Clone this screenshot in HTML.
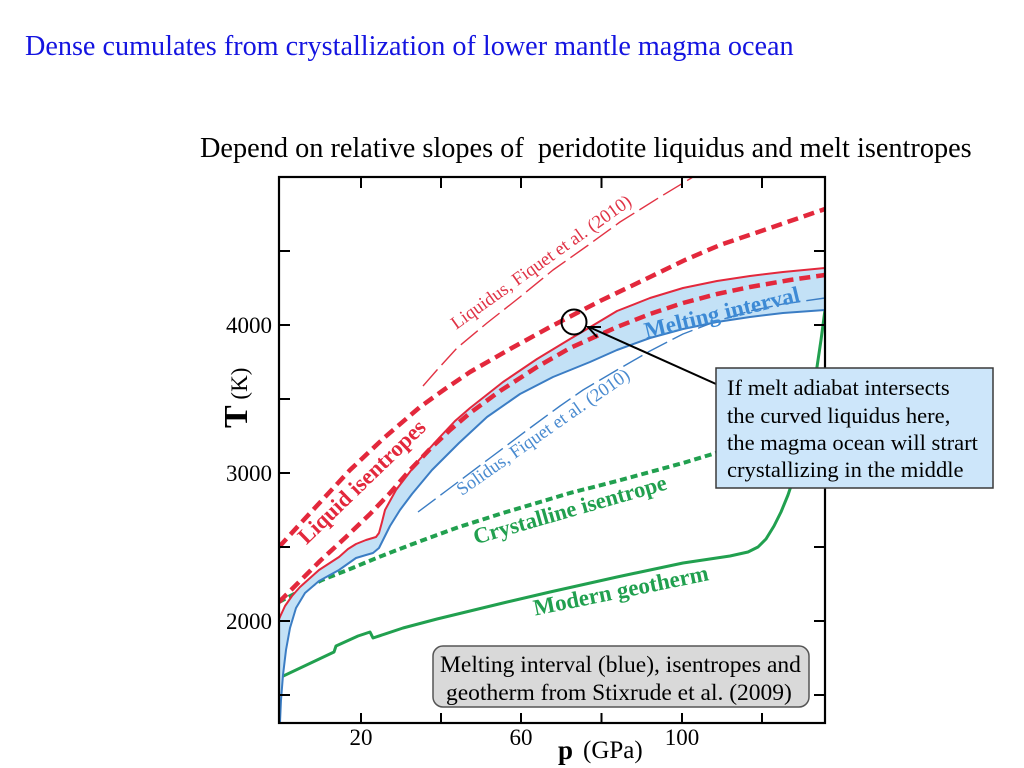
<!DOCTYPE html>
<html>
<head>
<meta charset="utf-8">
<style>
html,body{margin:0;padding:0;background:#fff;width:1024px;height:768px;overflow:hidden}
svg{display:block}
svg text{font-family:"Liberation Serif","Times New Roman",serif}
</style>
</head>
<body>
<svg width="1024" height="768" viewBox="0 0 1024 768" xmlns="http://www.w3.org/2000/svg" font-family="'Liberation Serif', serif">
<defs>
<clipPath id="pa"><rect x="279" y="177" width="546" height="546"/></clipPath>
</defs>

<!-- Titles -->
<text x="25" y="55" font-size="28.2" fill="#1414e0">Dense cumulates from crystallization of lower mantle magma ocean</text>
<text x="200" y="157" font-size="28.3" fill="#000">Depend on relative slopes of&#160; peridotite liquidus and melt isentropes</text>

<g clip-path="url(#pa)" fill="none" stroke-linejoin="round">
  <path d="M279,602 L300,591 L322,580 L350,569 L379,557 L410,545 L437,535 L459,527 L503,513 L540,502 L570,493 L617,481 L650,472 L683,463 L716,453" stroke="#21a04f" stroke-width="4" stroke-dasharray="7 4"/>
  <path d="M279,678 L334,652 L336,646 L358,636 L370,632 L373,638 L403,628 L437,619 L470,611 L503,603 L550,592 L617,577 L683,563 L730,556 L748,552 L758,547 L766,539 L774,526 L781,512 L788,495 L795,474 L802,450 L808,425 L813,397 L817,367 L821,340 L825,310" stroke="#21a04f" stroke-width="3"/>
  <path d="M279,619 L285,606 L292,596 L300,587 L319,570 L339,557 L348,549 L356,544 L366,540 L376,537 L379,533 L382,522 L385,510 L396,490 L419,460 L439,438 L455,421 L470,408 L503,382 L537,359 L570,339 L587,329 L617,311 L650,298 L683,288 L717,281 L750,276 L783,272 L825,268 L825,310 L783,313 L750,317 L717,322 L683,329 L650,338 L617,350 L590,362 L553,377 L520,394 L487,417 L459,443 L432,470 L412,494 L400,510 L390,526 L384,538 L379,548 L373,553 L366,555 L356,558 L339,570 L319,581 L305,593 L296,608 L290,628 L286,650 L283,675 L281,700 L280,722 L279,723 Z" fill="#c3e1f6" stroke="none"/>
  <path d="M423,386 L437,370 L457,348 L487,323 L520,297 L553,270 L587,246 L620,222 L660,197 L693,177" stroke="#e23344" stroke-width="1.4" stroke-dasharray="22 6"/>
  <path d="M418,512 L450,488 L490,458 L530,428 L560,406 L583,390 L617,370 L650,351 L683,334 L717,321 L750,311 L783,304 L825,298" stroke="#3b7dc4" stroke-width="1.4" stroke-dasharray="22 6"/>
  <path d="M279,619 L285,606 L292,596 L300,587 L319,570 L339,557 L348,549 L356,544 L366,540 L376,537 L379,533 L382,522 L385,510 L396,490 L419,460 L439,438 L455,421 L470,408 L503,382 L537,359 L570,339 L587,329 L617,311 L650,298 L683,288 L717,281 L750,276 L783,272 L825,268" stroke="#e3283c" stroke-width="2"/>
  <path d="M280,722 L281,700 L283,675 L286,650 L290,628 L296,608 L305,593 L319,581 L339,570 L356,558 L366,555 L373,553 L379,548 L384,538 L390,526 L400,510 L412,494 L432,470 L459,443 L487,417 L520,394 L553,377 L590,362 L617,350 L650,338 L683,329 L717,322 L750,317 L783,313 L825,310" stroke="#3b7dc4" stroke-width="2"/>
  <path d="M279,547 L300,524 L325,497 L350,470 L385,437 L420,407 L445,389 L470,372 L510,349 L550,327 L600,301 L650,277 L685,260 L720,245 L770,228 L825,209" stroke="#e3283c" stroke-width="4.5" stroke-dasharray="11 6"/>
  <path d="M279,602 L300,581 L320,561 L346,537 L370,514 L390,493 L410,470 L430,449 L450,430 L470,413 L500,391 L537,367 L570,348 L617,327 L650,314 L683,303 L717,294 L750,287 L790,280 L825,275" stroke="#e3283c" stroke-width="4.5" stroke-dasharray="11 6"/>
</g>

<text transform="translate(362,482) rotate(-44)" y="7" text-anchor="middle" font-size="22.5" font-weight="bold" fill="#e3283c">Liquid isentropes</text>
<text transform="translate(570,510) rotate(-16)" y="7" text-anchor="middle" font-size="22.5" font-weight="bold" fill="#21a04f">Crystalline isentrope</text>
<text transform="translate(621,591) rotate(-11.5)" y="7" text-anchor="middle" font-size="23" font-weight="bold" fill="#21a04f">Modern geotherm</text>
<text transform="translate(722,313) rotate(-13.5)" y="7" text-anchor="middle" font-size="23" font-weight="bold" fill="#3d8ad5">Melting interval</text>
<text transform="translate(541,262) rotate(-35.5)" y="6" text-anchor="middle" font-size="18.5" fill="#e03346">Liquidus, Fiquet et al. (2010)</text>
<text transform="translate(543,432) rotate(-35)" y="6" text-anchor="middle" font-size="18.5" fill="#4a8bd0">Solidus, Fiquet et al. (2010)</text>

<circle cx="574" cy="322" r="12.5" fill="none" stroke="#000" stroke-width="2"/>
<line x1="716" y1="384" x2="589" y2="327" stroke="#000" stroke-width="2"/>
<polyline points="597,337 588,327 601,327" fill="none" stroke="#000" stroke-width="2"/>

<rect x="279" y="177" width="546" height="546" fill="none" stroke="#000" stroke-width="2.2"/>
<g stroke="#000" stroke-width="2">
  <line x1="361" y1="723" x2="361" y2="713"/><line x1="441" y1="723" x2="441" y2="713"/>
  <line x1="521" y1="723" x2="521" y2="713"/><line x1="601.5" y1="723" x2="601.5" y2="713"/>
  <line x1="682" y1="723" x2="682" y2="713"/><line x1="762" y1="723" x2="762" y2="713"/>
  <line x1="361" y1="177" x2="361" y2="188"/><line x1="441" y1="177" x2="441" y2="188"/>
  <line x1="521" y1="177" x2="521" y2="188"/><line x1="601.5" y1="177" x2="601.5" y2="188"/>
  <line x1="682" y1="177" x2="682" y2="188"/><line x1="762" y1="177" x2="762" y2="188"/>
  <line x1="279" y1="251" x2="290" y2="251"/><line x1="279" y1="325" x2="290" y2="325"/>
  <line x1="279" y1="399" x2="290" y2="399"/><line x1="279" y1="473" x2="290" y2="473"/>
  <line x1="279" y1="547" x2="290" y2="547"/><line x1="279" y1="621" x2="290" y2="621"/>
  <line x1="279" y1="695" x2="290" y2="695"/>
  <line x1="825" y1="251" x2="814" y2="251"/><line x1="825" y1="325" x2="814" y2="325"/>
  <line x1="825" y1="399" x2="814" y2="399"/><line x1="825" y1="473" x2="814" y2="473"/>
  <line x1="825" y1="547" x2="814" y2="547"/><line x1="825" y1="621" x2="814" y2="621"/>
  <line x1="825" y1="695" x2="814" y2="695"/>
</g>

<g font-size="23" fill="#000">
  <text x="272" y="333" text-anchor="end">4000</text>
  <text x="272" y="481" text-anchor="end">3000</text>
  <text x="272" y="629" text-anchor="end">2000</text>
  <text x="361" y="745" text-anchor="middle">20</text>
  <text x="521" y="745" text-anchor="middle">60</text>
  <text x="682" y="745" text-anchor="middle">100</text>
</g>

<text transform="translate(247,428) rotate(-90)" fill="#000"><tspan font-size="34" font-weight="bold">T</tspan><tspan font-size="23"> (K)</tspan></text>
<text x="558" y="759" font-size="27" font-weight="bold" fill="#000">p</text>
<text x="583" y="758" font-size="25" fill="#000">(GPa)</text>

<rect x="716" y="368" width="277" height="120" fill="#cde6fa" stroke="#3a3a3a" stroke-width="1.5"/>
<g font-size="22.6" fill="#000">
  <text x="727" y="395">If melt adiabat intersects</text>
  <text x="727" y="423">the curved liquidus here,</text>
  <text x="727" y="450">the magma ocean will strart</text>
  <text x="727" y="477">crystallizing in the middle</text>
</g>

<rect x="433" y="646" width="376" height="61" rx="10" ry="10" fill="#d9d9d9" stroke="#555" stroke-width="1.5"/>
<g font-size="23.5" fill="#000">
  <text x="440" y="672">Melting interval (blue), isentropes and</text>
  <text x="446" y="700">geotherm from Stixrude et al. (2009)</text>
</g>
</svg>
</body>
</html>
